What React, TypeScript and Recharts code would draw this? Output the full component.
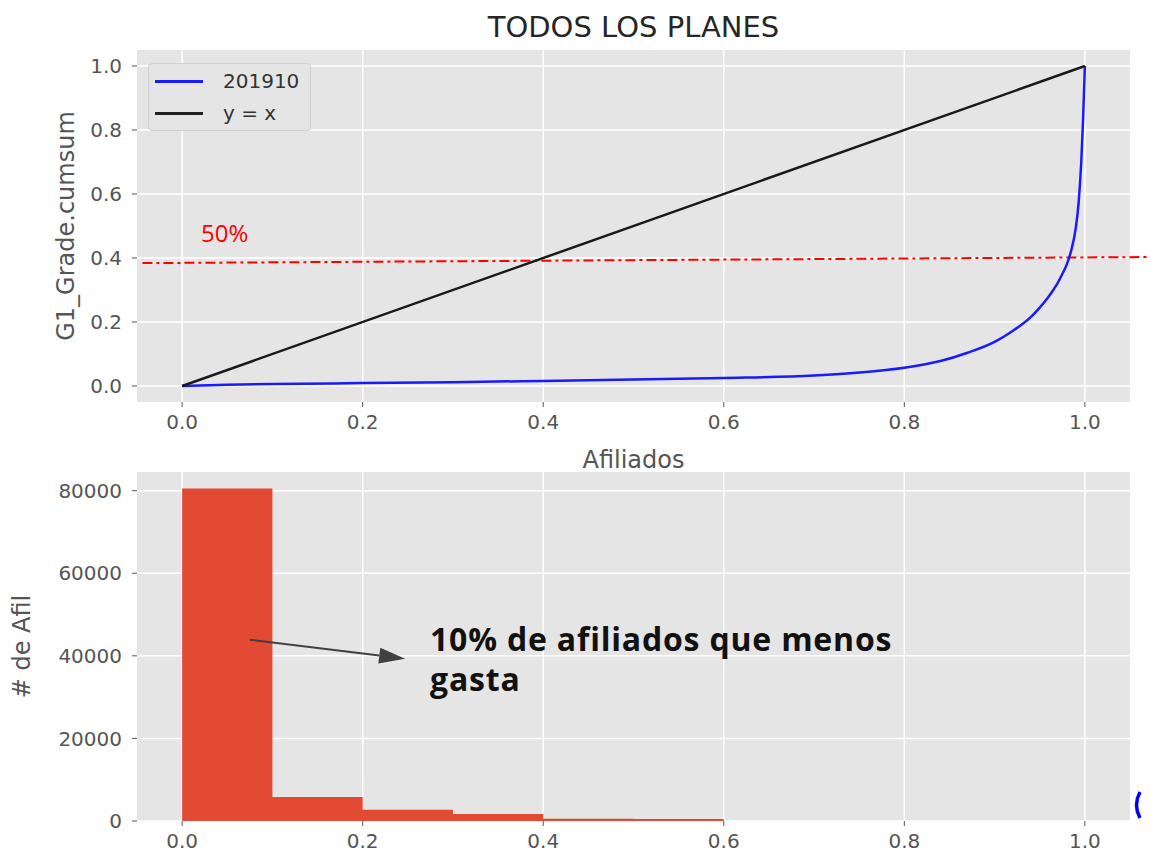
import React from "react";
import {
  Area,
  CartesianGrid,
  ComposedChart,
  Legend,
  Line,
  LineChart,
  ReferenceDot,
  ReferenceLine,
  XAxis,
  YAxis,
} from "recharts";

// Lorenz curve (cumulative share of G1_Grade vs. share of afiliados)
const lorenzX = [0, 0.05, 0.1, 0.2, 0.3, 0.4, 0.5, 0.6, 0.7, 0.75, 0.8, 0.84, 0.87, 0.9, 0.92, 0.94, 0.95, 0.96, 0.965, 0.97, 0.975, 0.98, 0.985, 0.99, 0.993, 0.996, 0.998, 1.0];
const lorenzY = [0, 0.004, 0.006, 0.009, 0.012, 0.016, 0.02, 0.025, 0.033, 0.042, 0.057, 0.078, 0.104, 0.138, 0.172, 0.215, 0.245, 0.28, 0.3, 0.322, 0.35, 0.38, 0.425, 0.495, 0.57, 0.7, 0.83, 1.0];

const identityX = [0, 1];
const identityY = [0, 1];

// histogram of afiliados, 10 bins on [0, 1]
const binEdges = [0, 0.1, 0.2, 0.3, 0.4, 0.5, 0.6, 0.7, 0.8, 0.9, 1.0];
const binCounts = [80500, 5800, 2700, 1700, 550, 500, 0, 0, 0, 0];

const unitTicks = [0, 0.2, 0.4, 0.6, 0.8, 1.0];
const countTicks = [0, 20000, 40000, 60000, 80000];

const lorenzData = lorenzX.map((x, i) => ({ x, y: lorenzY[i] }));
const identityData = identityX.map((x, i) => ({ x, y: identityY[i] }));
const histData = binEdges.map((x, i) => ({ x, count: i < binCounts.length ? binCounts[i] : 0 }));

const FONT = "'DejaVu Sans', sans-serif";
const GREY = "#555555";
const BG = "#e5e5e5";

const tickStyle = { fill: GREY, fontSize: 20, fontFamily: FONT };

const YLabel = ({ viewBox, value, cx }: any) => {
  const cy = viewBox.y + viewBox.height / 2;
  return (
    <text
      x={cx}
      y={cy}
      transform={`rotate(-90, ${cx}, ${cy})`}
      textAnchor="middle"
      dominantBaseline="central"
      fill={GREY}
      fontSize={24}
      fontFamily={FONT}
    >
      {value}
    </text>
  );
};

const XLabel = ({ viewBox, value }: any) => (
  <text
    x={viewBox.x + viewBox.width / 2}
    y={viewBox.y + 66}
    textAnchor="middle"
    fill={GREY}
    fontSize={24}
    fontFamily={FONT}
  >
    {value}
  </text>
);

const renderLegend = () => (
  <div
    style={{
      background: BG,
      border: "1px solid #d0d0d0",
      borderRadius: 4,
      width: 163,
      height: 68,
      boxSizing: "border-box",
      fontFamily: FONT,
      fontSize: 20,
      color: "#333",
    }}
  >
    {[
      { name: "201910", color: "#1a1aff" },
      { name: "y = x", color: "#222" },
    ].map((item, i) => (
      <div key={item.name} style={{ position: "absolute", left: 7, top: 6 + i * 32, height: 24, display: "flex", alignItems: "center" }}>
        <span style={{ display: "inline-block", width: 48, height: 3, background: item.color }} />
        <span style={{ marginLeft: 20 }}>{item.name}</span>
      </div>
    ))}
  </div>
);

const Arrow = (props: any) => {
  const { x1, y1, x2, y2 } = props;
  const ang = Math.atan2(y2 - y1, x2 - x1);
  const len = 26;
  const half = 8;
  const bx = x2 - len * Math.cos(ang);
  const by = y2 - len * Math.sin(ang);
  const px = -Math.sin(ang) * half;
  const py = Math.cos(ang) * half;
  return (
    <g>
      <line x1={x1} y1={y1} x2={bx} y2={by} stroke="#404040" strokeWidth={2} />
      <polygon points={`${x2},${y2} ${bx + px},${by + py} ${bx - px},${by - py}`} fill="#404040" />
    </g>
  );
};

const NoteText = (props: any) => (
  <text
    x={props.cx}
    y={props.cy}
    fill="#111"
    fontSize={32}
    letterSpacing={0.8}
    fontWeight={700}
    fontFamily="'Open Sans', sans-serif"
  >
    <tspan x={props.cx}>10% de afiliados que menos</tspan>
    <tspan x={props.cx} dy={40}>gasta</tspan>
  </text>
);

const PctText = (props: any) => (
  <text x={props.cx} y={props.cy} fill="#ff0000" fontSize={24} fontFamily="'Open Sans', sans-serif">
    50%
  </text>
);

export default function App() {
  return (
    <div style={{ position: "relative", width: 1151, height: 857, background: "#fff", overflow: "hidden" }}>
      <style>{`body { margin: 0; }`}</style>
      <div
        style={{
          position: "absolute",
          left: 137,
          width: 993,
          top: 10,
          textAlign: "center",
          fontFamily: FONT,
          fontSize: 29,
          color: "#262626",
          lineHeight: "34px",
        }}
      >
        TODOS LOS PLANES
      </div>

      <div style={{ position: "absolute", left: 0, top: 0 }}>
        <LineChart width={1151} height={482} margin={{ top: 50, right: 21, bottom: 0, left: 0 }}>
          <CartesianGrid fill={BG} stroke="#ffffff" strokeWidth={1.5} verticalValues={unitTicks} horizontalValues={unitTicks} />
          <XAxis
            type="number"
            dataKey="x"
            domain={[-0.05, 1.05]}
            ticks={unitTicks}
            allowDataOverflow
            tickFormatter={(v: number) => v.toFixed(1)}
            axisLine={false}
            tickLine={{ stroke: GREY }}
            tickSize={5}
            tickMargin={8}
            tick={tickStyle}
            height={80}
            label={<XLabel value="Afiliados" />}
          />
          <YAxis
            type="number"
            domain={[-0.05, 1.05]}
            ticks={unitTicks}
            allowDataOverflow
            tickFormatter={(v: number) => v.toFixed(1)}
            axisLine={false}
            tickLine={{ stroke: GREY }}
            tickSize={5}
            tickMargin={10}
            tick={tickStyle}
            width={137}
            label={<YLabel value="G1_Grade.cumsum" cx={66} />}
          />
          <Legend
            layout="vertical"
            align="center"
            verticalAlign="middle"
            content={renderLegend}
            wrapperStyle={{ position: "absolute", left: 148, top: 63, width: 163, height: 68 }}
          />
          <ReferenceLine
            segment={[{ x: -0.044, y: 0.384 }, { x: 1.072, y: 0.403 }]}
            ifOverflow="visible"
            stroke="#ff0000"
            strokeWidth={2}
            strokeDasharray="10 4 3 4"
          />
          <ReferenceDot x={0.021} y={0.45} ifOverflow="visible" shape={PctText} />
          <Line
            data={lorenzData}
            dataKey="y"
            name="201910"
            type="monotone"
            stroke="#1a1aff"
            strokeWidth={2.5}
            dot={false}
            isAnimationActive={false}
          />
          <Line
            data={identityData}
            dataKey="y"
            name="y = x"
            type="linear"
            stroke="#1a1a1a"
            strokeWidth={2.5}
            dot={false}
            isAnimationActive={false}
          />
        </LineChart>
      </div>

      <div style={{ position: "absolute", left: 0, top: 470 }}>
        <ComposedChart width={1151} height={387} data={histData} margin={{ top: 2, right: 21, bottom: 0, left: 0 }}>
          <CartesianGrid fill={BG} stroke="#ffffff" strokeWidth={1.5} verticalValues={unitTicks} horizontalValues={countTicks} />
          <XAxis
            type="number"
            dataKey="x"
            domain={[-0.05, 1.05]}
            ticks={unitTicks}
            allowDataOverflow
            tickFormatter={(v: number) => v.toFixed(1)}
            axisLine={false}
            tickLine={{ stroke: GREY }}
            tickSize={5}
            tickMargin={8}
            tick={tickStyle}
            height={36}
          />
          <YAxis
            type="number"
            domain={[0, 84525]}
            ticks={countTicks}
            allowDataOverflow
            axisLine={false}
            tickLine={{ stroke: GREY }}
            tickSize={5}
            tickMargin={10}
            tick={tickStyle}
            width={137}
            label={<YLabel value="# de Afil" cx={22} />}
          />
          <Area
            dataKey="count"
            type="stepAfter"
            fill="#e24a33"
            fillOpacity={1}
            stroke="none"
            isAnimationActive={false}
          />
          <ReferenceLine
            segment={[{ x: 0.075, y: 43900 }, { x: 0.247, y: 39300 }]}
            shape={Arrow}
          />
          <ReferenceDot x={0.2746} y={41200} ifOverflow="visible" shape={NoteText} />
        </ComposedChart>
      </div>

      <svg style={{ position: "absolute", left: 0, top: 0, pointerEvents: "none" }} width={1151} height={857}>
        <path d="M1140 792 Q1133 805 1140 818" fill="none" stroke="#0000ee" strokeWidth={3.5} />
      </svg>
    </div>
  );
}
